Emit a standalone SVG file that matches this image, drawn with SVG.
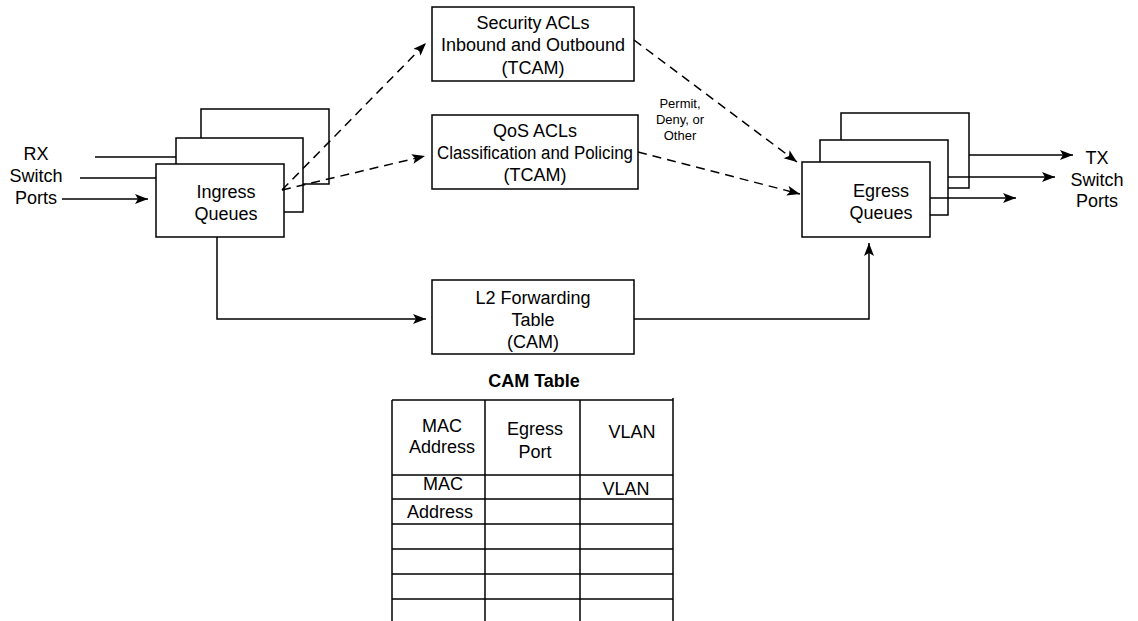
<svg xmlns="http://www.w3.org/2000/svg" width="1138" height="621" viewBox="0 0 1138 621">
<style>
.box{fill:#fff;stroke:#000;stroke-width:1.5}
.ln{fill:none;stroke:#000;stroke-width:1.5}
.dash{fill:none;stroke:#000;stroke-width:1.5;stroke-dasharray:9 6}
.t{font-family:"Liberation Sans",Arial,Helvetica,sans-serif;font-size:18px;fill:#000;text-anchor:middle}
.s{font-family:"Liberation Sans",Arial,Helvetica,sans-serif;font-size:13px;fill:#000;text-anchor:middle}
.b{font-family:"Liberation Sans",Arial,Helvetica,sans-serif;font-size:18px;font-weight:bold;fill:#000;text-anchor:middle}
</style>
<defs>
<marker id="ah" markerUnits="userSpaceOnUse" markerWidth="14" markerHeight="11" refX="13" refY="5" orient="auto">
<path d="M0,0 L13,5 L0,10 L3,5 z" fill="#000"/>
</marker>
</defs>
<rect width="1138" height="621" fill="#fff"/>

<g id="rx-label">
<text class="t" x="36" y="160">RX</text>
<text class="t" x="36" y="182">Switch</text>
<text class="t" x="36" y="204">Ports</text>
</g>

<g id="ingress">
<rect class="box" x="201" y="109" width="128" height="75"/>
<rect class="box" x="176" y="138" width="127" height="74"/>
<rect class="box" x="156" y="164" width="128" height="73"/>
<text class="t" x="226" y="198">Ingress</text>
<text class="t" x="226" y="220">Queues</text>
</g>

<g id="security">
<rect class="box" x="432" y="7" width="202" height="74"/>
<text class="t" x="533" y="29">Security ACLs</text>
<text class="t" x="533" y="51">Inbound and Outbound</text>
<text class="t" x="533" y="74">(TCAM)</text>
</g>

<g id="qos">
<rect class="box" x="432" y="115" width="206" height="74"/>
<text class="t" x="535" y="137">QoS ACLs</text>
<text class="t" x="535" y="159" textLength="196" lengthAdjust="spacingAndGlyphs">Classification and Policing</text>
<text class="t" x="535" y="181">(TCAM)</text>
</g>

<g id="permit-label">
<text class="s" x="680" y="108">Permit,</text>
<text class="s" x="680" y="124">Deny, or</text>
<text class="s" x="680" y="140">Other</text>
</g>

<g id="egress">
<rect class="box" x="841" y="113" width="128" height="75"/>
<rect class="box" x="820" y="140" width="128" height="75"/>
<rect class="box" x="802" y="162" width="128" height="75"/>
<text class="t" x="881" y="197">Egress</text>
<text class="t" x="881" y="219">Queues</text>
</g>

<g id="tx-label">
<text class="t" x="1097" y="164">TX</text>
<text class="t" x="1097" y="186">Switch</text>
<text class="t" x="1097" y="207">Ports</text>
</g>

<g id="l2">
<rect class="box" x="432" y="280" width="202" height="74"/>
<text class="t" x="533" y="304">L2 Forwarding</text>
<text class="t" x="533" y="326">Table</text>
<text class="t" x="533" y="348">(CAM)</text>
</g>

<g id="connectors">
<line class="ln" x1="95" y1="157" x2="176" y2="157"/>
<line class="ln" x1="80" y1="178" x2="156" y2="178"/>
<line class="ln" x1="62" y1="199" x2="148" y2="199" marker-end="url(#ah)"/>
<line class="dash" x1="282" y1="190" x2="426" y2="43" marker-end="url(#ah)"/>
<line class="dash" x1="282" y1="190" x2="425" y2="156" marker-end="url(#ah)"/>
<line class="dash" x1="634" y1="40" x2="797" y2="162" marker-end="url(#ah)"/>
<line class="dash" x1="638" y1="152" x2="800" y2="194" marker-end="url(#ah)"/>
<line class="ln" x1="969" y1="155" x2="1073" y2="155" marker-end="url(#ah)"/>
<line class="ln" x1="948" y1="177" x2="1055" y2="177" marker-end="url(#ah)"/>
<line class="ln" x1="930" y1="198" x2="1016" y2="198" marker-end="url(#ah)"/>
<polyline class="ln" points="217,237 217,319 426,319" marker-end="url(#ah)"/>
<polyline class="ln" points="634,319 869,319 869,243" marker-end="url(#ah)"/>
</g>

<g id="cam-table">
<text class="b" x="534" y="387">CAM Table</text>
<g class="ln">
<line x1="392" y1="400" x2="673" y2="400"/>
<line x1="392" y1="475" x2="673" y2="475"/>
<line x1="392" y1="499" x2="673" y2="499"/>
<line x1="392" y1="524" x2="673" y2="524"/>
<line x1="392" y1="549" x2="673" y2="549"/>
<line x1="392" y1="574" x2="673" y2="574"/>
<line x1="392" y1="599" x2="673" y2="599"/>
<line x1="392" y1="400" x2="392" y2="621"/>
<line x1="485" y1="400" x2="485" y2="621"/>
<line x1="580" y1="400" x2="580" y2="621"/>
<line x1="673" y1="398" x2="673" y2="621"/>
</g>
<text class="t" x="442" y="432">MAC</text>
<text class="t" x="442" y="453">Address</text>
<text class="t" x="535" y="435">Egress</text>
<text class="t" x="535" y="458">Port</text>
<text class="t" x="632" y="438">VLAN</text>
<text class="t" x="443" y="490">MAC</text>
<text class="t" x="626" y="495">VLAN</text>
<text class="t" x="440" y="518">Address</text>
</g>
</svg>
